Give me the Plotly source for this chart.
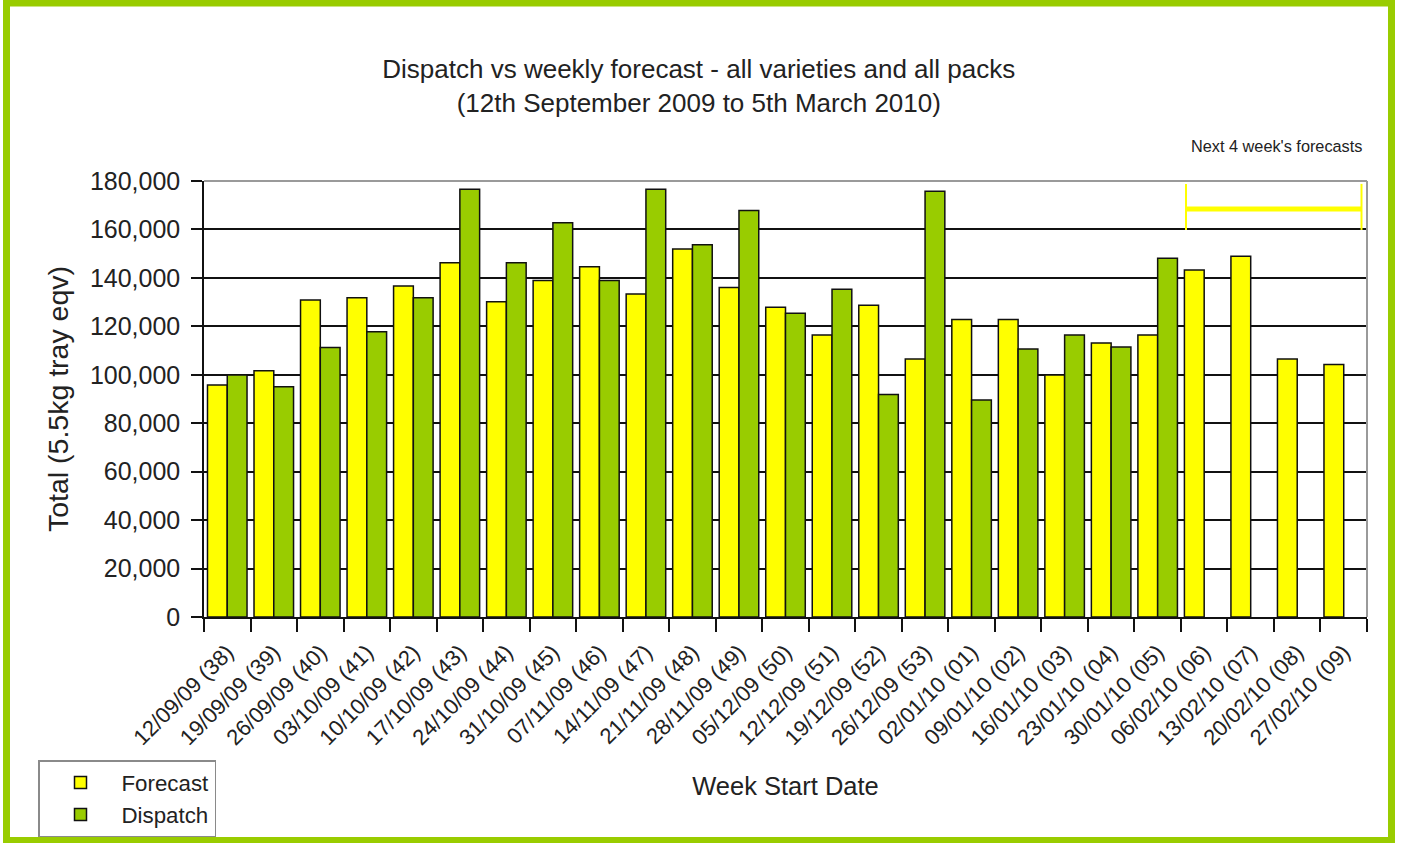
import plotly.graph_objects as go

weeks = ["12/09/09 (38)", "19/09/09 (39)", "26/09/09 (40)", "03/10/09 (41)", "10/10/09 (42)",
         "17/10/09 (43)", "24/10/09 (44)", "31/10/09 (45)", "07/11/09 (46)", "14/11/09 (47)",
         "21/11/09 (48)", "28/11/09 (49)", "05/12/09 (50)", "12/12/09 (51)", "19/12/09 (52)",
         "26/12/09 (53)", "02/01/10 (01)", "09/01/10 (02)", "16/01/10 (03)", "23/01/10 (04)",
         "30/01/10 (05)", "06/02/10 (06)", "13/02/10 (07)", "20/02/10 (08)", "27/02/10 (09)"]

forecast = [95800, 101700, 130900, 131800, 136700, 146300, 130200, 138900, 144600, 133400,
            151900, 136000, 127900, 116400, 128700, 106500, 122800, 122800, 99900, 113100,
            116400, 143300, 148900, 106500, 104200]

dispatch = [99900, 95100, 111300, 117800, 131800, 176600, 146300, 162800, 138900, 176600,
            153700, 167800, 125400, 135300, 91900, 175800, 89600, 110600, 116400, 111500,
            148100, None, None, None, None]

y_ticks = [0, 20000, 40000, 60000, 80000, 100000, 120000, 140000, 160000, 180000]

FONT = "Liberation Sans, Arial, sans-serif"
TXT = "#222222"
YELLOW = "#FFFF00"
GREEN = "#99CC00"

fig = go.Figure()
fig.add_trace(go.Bar(name="Forecast", x=weeks, y=forecast,
                     marker=dict(color=YELLOW, line=dict(color="#111111", width=1.5))))
fig.add_trace(go.Bar(name="Dispatch", x=weeks, y=dispatch,
                     marker=dict(color=GREEN, line=dict(color="#111111", width=1.5))))

# plot area in px: x 204..1367, y 181..617
L, R, T, B = 204, 1367, 181, 617
W, H = R - L, B - T

def px_x(p):
    return (p - L) / W

def px_y(p):
    return (B - p) / H

shapes = [
    dict(type="line", xref="paper", yref="paper", x0=0, x1=1, y0=1, y1=1,
         line=dict(color="#9a9a9a", width=2), layer="above"),
    dict(type="line", xref="paper", yref="paper", x0=1, x1=1, y0=0, y1=1,
         line=dict(color="#9a9a9a", width=2), layer="above"),
    dict(type="rect", xref="paper", yref="paper",
         x0=px_x(6.5), x1=px_x(1391.5), y0=px_y(840.5), y1=px_y(3),
         line=dict(color=GREEN, width=7), fillcolor="rgba(0,0,0,0)", layer="above"),
    dict(type="line", xref="paper", yref="y", x0=px_x(1186), x1=px_x(1361.5),
         y0=168400, y1=168400, line=dict(color=YELLOW, width=5), layer="above"),
    dict(type="line", xref="paper", yref="y", x0=px_x(1186), x1=px_x(1186),
         y0=159800, y1=178800, line=dict(color=YELLOW, width=2), layer="above"),
    dict(type="line", xref="paper", yref="y", x0=px_x(1361.5), x1=px_x(1361.5),
         y0=159800, y1=178800, line=dict(color=YELLOW, width=2), layer="above"),
]

fig.update_layout(
    width=1406, height=843,
    margin=dict(l=L, r=1406 - R, t=T, b=843 - B, autoexpand=False),
    paper_bgcolor="white", plot_bgcolor="white",
    font=dict(family=FONT, color=TXT),
    barmode="group", bargap=0.15, bargroupgap=0,
    title=dict(text="Dispatch vs weekly forecast - all varieties and all packs<br>(12th September 2009 to 5th March 2010)",
               x=0.497, xanchor="center", xref="container",
               y=1 - 78 / 843, yanchor="middle", yref="container",
               font=dict(family=FONT, size=26, color=TXT)),
    xaxis=dict(type="category", tickangle=-45, tickson="boundaries",
               ticks="outside", ticklen=13, tickwidth=1.5, tickcolor="#111",
               showline=True, linecolor="#111", linewidth=1.5,
               showgrid=False, automargin=False, ticklabelstandoff=12,
               tickfont=dict(family=FONT, size=22, color=TXT),
               title=dict(text="Week Start Date", font=dict(family=FONT, size=25.5, color=TXT),
                          standoff=28)),
    yaxis=dict(range=[0, 180000], tickvals=y_ticks, tickformat=",d",
               ticks="outside", ticklen=11, tickwidth=1.5, tickcolor="#111",
               showline=True, linecolor="#111", linewidth=1.5,
               showgrid=True, gridcolor="#111", gridwidth=1.5, zeroline=False,
               automargin=False, ticklabelstandoff=6,
               tickfont=dict(family=FONT, size=25, color=TXT),
               title=dict(text="Total (5.5kg tray eqv)", font=dict(family=FONT, size=28.5, color=TXT),
                          standoff=13)),
    legend=dict(x=px_x(38), y=px_y(760), xanchor="left", yanchor="top",
                bordercolor="#8a8a8a", borderwidth=1.5, bgcolor="white",
                font=dict(family=FONT, size=22.3, color=TXT), itemwidth=72,
                entrywidth=190, tracegroupgap=0),
    shapes=shapes,
    annotations=[dict(text="Next 4 week's forecasts", xref="paper", yref="paper",
                      x=px_x(1364), y=px_y(145.7), xanchor="right", yanchor="middle",
                      showarrow=False, font=dict(family=FONT, size=16.3, color=TXT))],
)

fig.write_html("out.html", config={"displayModeBar": False},
               post_script="document.body.style.margin='0';document.documentElement.style.overflow='hidden';document.body.style.overflow='hidden';")
